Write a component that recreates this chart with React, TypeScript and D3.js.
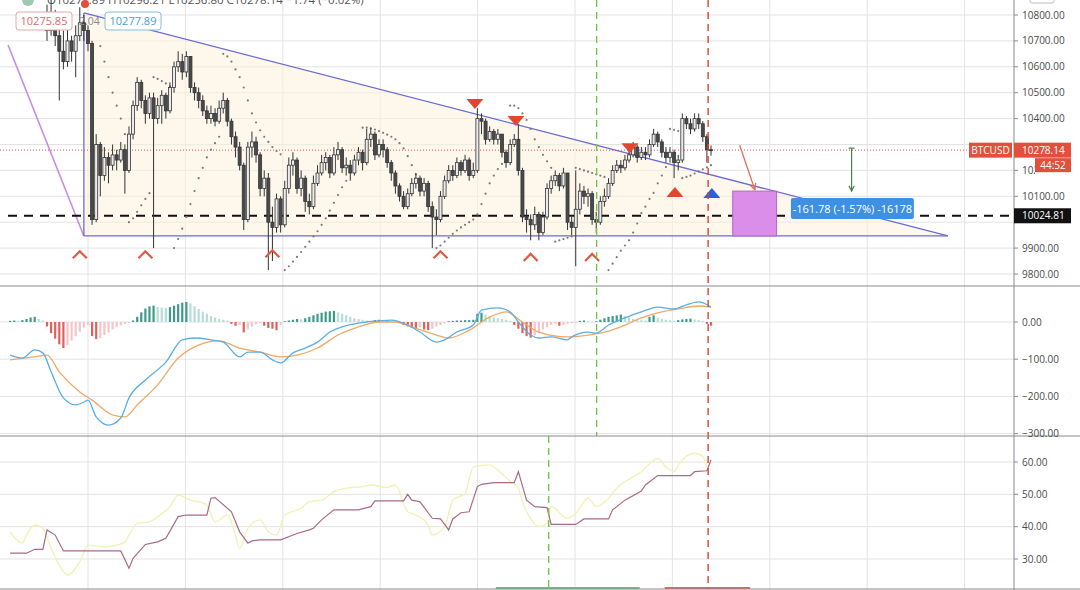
import React from "react";
import * as d3 from "d3";

// ---------- DATA ----------
const firstOpen = 10780;
const closes = [
  10740, 10800, 10720, 10660, 10620, 10700, 10660, 10720, 10770, 10740,
  10690, 10010, 10300, 10180, 10250, 10220, 10260, 10240, 10280, 10200,
  10340, 10450, 10540, 10470, 10420, 10480, 10400, 10450, 10490, 10430,
  10520, 10600, 10620, 10580, 10640, 10520, 10500, 10470, 10430, 10400,
  10420, 10390, 10440, 10470, 10390, 10330, 10290, 10220, 10010, 10290,
  10310, 10260, 10130, 10170, 10000, 9980, 10090, 9990, 10130, 10220,
  10240, 10130, 10170, 10080, 10060, 10150, 10190, 10230, 10250, 10190,
  10260, 10280, 10210, 10220, 10190, 10240, 10270, 10230, 10320, 10340,
  10260, 10300, 10280, 10230, 10190, 10140, 10100, 10060, 10110, 10150,
  10170, 10120, 10150, 10060, 10020, 10010, 10100, 10160, 10200, 10180,
  10230, 10200, 10240, 10180, 10200, 10400, 10390, 10320, 10350, 10320,
  10340, 10270, 10230, 10300, 10320, 10200, 10020, 10010, 9990, 10030,
  9960, 10020, 10130, 10160, 10180, 10140, 10190, 10000, 9980, 10050,
  10120, 10100, 10110, 10010, 10000, 10080, 10100, 10150, 10200, 10220,
  10210, 10240, 10260, 10290, 10250, 10270, 10260, 10300, 10340, 10310,
  10270, 10250, 10270, 10230, 10240, 10400, 10380, 10360, 10400, 10380,
  10330, 10280, 10278.14,
];
const highs = [
  10840, 10870, 10820, 10790, 10740, 10750, 10720, 10760, 10830, 10800,
  10760, 10700, 10340, 10310, 10290, 10270, 10300, 10280, 10310, 10300,
  10370, 10470, 10560, 10550, 10490, 10500, 10500, 10480, 10510, 10500,
  10540, 10620, 10660, 10650, 10660, 10640, 10540, 10520, 10490, 10450,
  10450, 10440, 10470, 10500, 10480, 10400, 10350, 10310, 10230, 10310,
  10350, 10330, 10270, 10200, 10190, 10060, 10110, 10100, 10160, 10250,
  10270, 10250, 10200, 10180, 10110, 10180, 10220, 10260, 10270, 10260,
  10290, 10310, 10290, 10250, 10240, 10260, 10290, 10280, 10360, 10365,
  10350, 10320, 10320, 10290, 10240, 10200, 10150, 10120, 10130, 10170,
  10190, 10180, 10170, 10160, 10080, 10050, 10120, 10180, 10220, 10220,
  10250, 10240, 10260, 10250, 10230, 10440, 10420, 10400, 10370, 10360,
  10360, 10340, 10280, 10320, 10340, 10380, 10210, 10050, 10030, 10060,
  10040, 10040, 10150, 10180, 10200, 10190, 10210, 10190, 10020, 10200,
  10150, 10140, 10130, 10120, 10040, 10100, 10130, 10170, 10220, 10240,
  10240, 10260, 10280, 10310, 10300, 10290, 10290, 10320, 10360, 10350,
  10320, 10290, 10290, 10280, 10260, 10420, 10410, 10400, 10420, 10420,
  10390, 10340, 10296.21,
];
const lows = [
  10700, 10720, 10680, 10470, 10590, 10600, 10620, 10560, 10700, 10700,
  10660, 9990, 10000, 10100, 10160, 10150, 10200, 10200, 10230, 10110,
  10190, 10320, 10430, 10440, 10380, 10400, 9900, 10380, 10380, 10400,
  10420, 10500, 10580, 10550, 10560, 10500, 10470, 10440, 10410, 10380,
  10380, 10370, 10380, 10420, 10370, 10300, 10250, 10200, 9970, 10000,
  10250, 10230, 10100, 10100, 9815, 9850, 9960, 9960, 9980, 10110,
  10180, 10110, 10100, 10040, 10030, 10050, 10140, 10180, 10200, 10170,
  10180, 10240, 10190, 10180, 10160, 10180, 10220, 10200, 10220, 10290,
  10240, 10250, 10250, 10210, 10160, 10110, 10080, 10050, 10050, 10100,
  10130, 10100, 10100, 10040, 9900, 9950, 10000, 10090, 10150, 10160,
  10170, 10180, 10190, 10160, 10170, 10190, 10340, 10300, 10310, 10300,
  10300, 10250, 10210, 10220, 10290, 10180, 10000, 9960, 9930, 9970,
  9930, 9950, 10010, 10110, 10140, 10120, 10130, 9970, 9950, 9830,
  10030, 10070, 10060, 9990, 9960, 9990, 10060, 10090, 10140, 10190,
  10190, 10200, 10230, 10250, 10230, 10240, 10240, 10250, 10290, 10290,
  10250, 10230, 10230, 10170, 10200, 10230, 10360, 10340, 10350, 10360,
  10310, 10230, 10256.8,
];

// Parabolic SAR runs: [first bar index, values]
const sarRuns: [number, number[]][] = [
  [13, [10680, 10620, 10560, 10500, 10450, 10400, 10340]],
  [20, [10000, 10015, 10040, 10065, 10090, 10112]],
  [26, [10560, 10553, 10545, 10536, 10525]],
  [31, [9900, 9935, 9975, 10020, 10070, 10120, 10170, 10210, 10250, 10280, 10305, 10330]],
  [43, [10650, 10640, 10620, 10590, 10560, 10520, 10470, 10420, 10385, 10355, 10330, 10310, 10290, 10275, 10262]],
  [58, [9815, 9830, 9848, 9866, 9885, 9905, 9925, 9945, 9965, 9990, 10015, 10045, 10075, 10105, 10135, 10160]],
  [77, [10365, 10365, 10362, 10358, 10352, 10345, 10338, 10330, 10320, 10305, 10285, 10255, 10220, 10185, 10150]],
  [95, [9900, 9910, 9925, 9940, 9955, 9968, 9980, 9990, 10000, 10010, 10030, 10070, 10110, 10150, 10180, 10205, 10225]],
  [113, [10450, 10450, 10440, 10420, 10395, 10360, 10320, 10290, 10260, 10235, 10210]],
  [124, [9925, 9930, 9935, 9940, 9945]],
  [129, [10210, 10205, 10200, 10195, 10190, 10185, 10180, 10175]],
  [137, [9815, 9840, 9865, 9890, 9910, 9930, 9960, 9995, 10035, 10060, 10090, 10113, 10150, 10180, 10213]],
  [152, [10360, 10356, 10352]],
  [155, [10170, 10175, 10180, 10188, 10196, 10204, 10212, 10220]],
];

// MACD histogram, bar index -9 .. 162
const histStart = -9;
const macdHist = [
  3, 4, 3, 5, 8, 12, 14, 8, 4,
  -12, -30, -45, -60, -70, -62, -50, -38, -26, -15, -8,
  -38, -46, -44, -35, -28, -20, -14, -9, -5, -2,
  4, 14, 26, 36, 42, 44, 40, 39, 38, 40, 44, 48, 52, 54,
  50, 42, 35, 28, 22, 16, 12, 8, 6, 4,
  -5, -10, -8, -28, -20, -12, -6, -3, -10, -16, -18, -22, -8,
  2, 4, 6, 8, 7, 10, 14, 18, 22, 25, 28, 29, 30,
  26, 22, 18, 14, 10, 8, 6, 4,
  3, 5, 6, 4, 5, 3, 1,
  -3, -8, -12, -16, -18, -14, -20, -22,
  -18, -12, -8, -4,
  2, 3, 4, 4, 5, 5, 6,
  22, 25, 20, 16, 12, 10, 8, 6, 3,
  -8, -18, -30, -38, -42,
  -36, -28, -20, -14, -8, -5,
  -10, -8,
  -5, -3, -1,
  3, 4,
  2, 1, 2,
  6, 10, 14, 16, 18, 20, 16,
  12, 8, 6, 5, 4,
  14, 18,
  12, 8, 6, 4, 3,
  5, 7, 8, 9,
  7, 5, 3,
  -5, -10,
];
const macdLine: [number, number][] = [
  [-9, -89], [-6, -97], [-3, -75], [-1, -83], [1, -134], [4, -204], [7, -223], [9, -215], [10, -210],
  [12, -255], [15, -277], [18, -258], [20, -204], [24, -156], [29, -108], [33, -48], [36, -43], [40, -48],
  [43, -54], [47, -94], [49, -81], [52, -81], [55, -102], [57, -110], [60, -83], [63, -70], [66, -54],
  [69, -27], [72, -13], [78, 0], [81, 3], [84, 5], [88, -8], [91, -27], [95, -54], [97, -48], [100, -27],
  [104, -8], [106, 32], [110, 38], [113, 27], [115, 0], [118, -35], [120, -43], [123, -40], [127, -48],
  [128, -40], [132, -27], [134, -30], [137, -8], [141, 11], [145, 27], [149, 40], [153, 35], [156, 46],
  [159, 54], [162, 40],
];
const signalLine: [number, number][] = [
  [-9, -102], [-3, -94], [0, -89], [3, -134], [8, -188], [11, -210], [16, -250], [19, -255], [22, -223],
  [27, -169], [32, -97], [37, -62], [42, -51], [47, -70], [52, -81], [57, -94], [61, -89], [66, -70],
  [71, -35], [76, -13], [81, 0], [85, 0], [89, -13], [95, -35], [98, -43], [103, -22], [108, 13],
  [112, 27], [116, 0], [120, -27], [127, -40], [132, -35], [135, -30], [140, -13], [145, 11], [150, 27],
  [154, 35], [159, 43], [162, 40],
];
const rsiMauve: [number, number][] = [
  [-9, 31.8], [-5, 31.8], [-3, 33.0], [-1, 33.0], [0, 39.0], [2, 37.4], [4, 32.5], [10, 32.5], [18, 32.5],
  [20, 27.1], [21, 30.2], [24, 34.5], [27, 35.3], [29, 36.4], [32, 43.1], [34, 43.6], [39, 43.6], [40, 48.8],
  [41, 49.0], [45, 44.6], [46, 41.5], [47, 38.4], [49, 34.9], [50, 35.6], [52, 35.9], [57, 35.9], [61, 37.9],
  [64, 39.0], [65, 39.5], [67, 42.1], [70, 45.2], [76, 45.2], [79, 46.2], [80, 48.0], [87, 48.0], [88, 50.0],
  [89, 48.2], [91, 47.7], [94, 42.6], [96, 42.4], [98, 39.0], [99, 42.4], [101, 44.3], [103, 44.6], [105, 52.4],
  [106, 53.1], [109, 53.6], [114, 53.6], [115, 57.0], [117, 48.2], [119, 46.2], [122, 45.9], [123, 40.7],
  [129, 40.7], [131, 42.4], [137, 42.4], [138, 45.2], [141, 48.2], [145, 51.0], [146, 52.9], [149, 55.8],
  [157, 55.8], [158, 57.0], [161, 57.3], [162, 60.6],
];
const rsiYellow: [number, number][] = [
  [-9, 38.4], [-6, 34.9], [-5, 37.4], [-3, 40.5], [-1, 39.5], [1, 33.3], [4, 26.1], [5, 25.0], [8, 29.2],
  [10, 34.3], [14, 33.8], [17, 34.3], [19, 35.3], [20, 37.4], [22, 41.0], [25, 41.5], [27, 43.1], [30, 46.2],
  [32, 49.8], [35, 48.2], [37, 47.7], [39, 46.7], [41, 41.5], [44, 43.6], [46, 37.4], [47, 33.3], [49, 39.5],
  [52, 42.1], [54, 38.4], [56, 37.4], [58, 43.6], [62, 45.7], [64, 47.7], [67, 48.2], [70, 50.8], [73, 51.9],
  [77, 52.4], [79, 52.9], [83, 52.1], [85, 52.9], [88, 44.6], [90, 43.6], [93, 40.5], [94, 37.4], [97, 40.0],
  [99, 48.2], [102, 50.3], [104, 58.5], [108, 59.1], [110, 57.5], [113, 54.0], [115, 52.0], [116, 47.7],
  [118, 42.6], [120, 40.0], [122, 41.0], [123, 46.2], [127, 42.6], [129, 44.1], [132, 48.8], [134, 46.2],
  [137, 48.8], [139, 51.9], [141, 53.9], [145, 57.0], [149, 61.1], [151, 58.5], [153, 57.0], [154, 59.1],
  [158, 62.7], [160, 61.6], [161, 58.5],
];

// signal markers
const caretIdx = [8, 24, 55, 96, 118, 133];
const caretPrice = [9876, 9876, 9880, 9876, 9866, 9866];
const downTriIdx = [104.4, 114.4, 142.2];
const downTriPrice = [10456, 10391, 10286];
const upTriIdx = [153.2, 162.2];
const upTriPrice = [10117, 10113];
const upTriColor = ["#e2462f", "#2f5de0"];

// tick labels (10300 and 10000 sit under the price boxes and are not drawn in the reference)
const priceTicks = [10800, 10700, 10600, 10500, 10400, 10300, 10200, 10100, 10000, 9900, 9800];
const hiddenPriceLabels = [10300, 10000];
const macdTicks = [0, -100, -200, -300];
const rsiTicks = [60, 50, 40, 30];

// levels / drawings (bar index, price)
const lastPrice = 10278.14;
const blackLevel = 10024.81;
const triTop: [number, number] = [9, 10808];
const triApex: [number, number] = [219.8, 9947];
const triBase: [number, number] = [9, 9947];
const violetFrom: [number, number] = [-9.5, 10684];
const boxFrom: [number, number] = [167.3, 10120];
const boxTo: [number, number] = [178, 9947];
const redArrow: [number, number][] = [[169, 10297], [172.7, 10125]];
const greenArrow: [number, number][] = [[196.3, 10286], [196.3, 10120]];
const measureBox: [number, number][] = [[181.5, 10093], [211.5, 10012]];
const greenDashIdx = 134.1;
const greenDashRsiIdx = 122.4;
const redDashIdx = 161.3;

export default function App() {
  const AX = 1014;
  const x = d3.scaleLinear().domain([0, 162]).range([47, 711]);
  const yP = d3.scaleLinear().domain([9800, 10800]).range([274, 15]);
  const yM = d3.scaleLinear().domain([-300, 0]).range([433.6, 322]);
  const yR = d3.scaleLinear().domain([30, 60]).range([559, 462]);
  const xGrid = d3.scaleLinear().domain([0, 9]).range([88, 964.6]);
  const gridXs = d3.range(10).map((k) => xGrid(k));

  const candles = closes.map((c, i) => {
    const o = i === 0 ? firstOpen : closes[i - 1];
    return {
      i,
      o,
      c,
      h: Math.max(highs[i], o, c),
      l: Math.min(lows[i], o, c),
    };
  });

  const lineM = d3
    .line<[number, number]>()
    .x((d) => x(d[0]))
    .y((d) => yM(d[1]))
    .curve(d3.curveMonotoneX);
  const lineRstep = d3
    .line<[number, number]>()
    .x((d) => x(d[0]))
    .y((d) => yR(d[1]));
  const lineRsmooth = d3
    .line<[number, number]>()
    .x((d) => x(d[0]))
    .y((d) => yR(d[1]))
    .curve(d3.curveMonotoneX);

  const histBars = macdHist.map((v, k) => {
    const prev = k > 0 ? macdHist[k - 1] : v;
    let color;
    if (v >= 0) color = v >= prev ? "#3e9a8a" : "#b6ddd6";
    else color = v <= prev ? "#e0605a" : "#f6c4c8";
    return { i: histStart + k, v, color };
  });

  const fontFam = "'Open Sans', 'DejaVu Sans', sans-serif";
  const labelColor = "#4a4a4a";

  const arrowHead = (p0: [number, number], p1: [number, number], size: number) => {
    const ang = Math.atan2(p1[1] - p0[1], p1[0] - p0[0]);
    const a1 = ang + Math.PI - 0.45;
    const a2 = ang + Math.PI + 0.45;
    return `M${p1[0] + size * Math.cos(a1)},${p1[1] + size * Math.sin(a1)} L${p1[0]},${p1[1]} L${p1[0] + size * Math.cos(a2)},${p1[1] + size * Math.sin(a2)}`;
  };

  const ra0: [number, number] = [x(redArrow[0][0]), yP(redArrow[0][1])];
  const ra1: [number, number] = [x(redArrow[1][0]), yP(redArrow[1][1])];
  const ga0: [number, number] = [x(greenArrow[0][0]), yP(greenArrow[0][1])];
  const ga1: [number, number] = [x(greenArrow[1][0]), yP(greenArrow[1][1])];

  const mbX0 = x(measureBox[0][0]);
  const mbX1 = x(measureBox[1][0]);
  const mbY0 = yP(measureBox[0][1]);
  const mbY1 = yP(measureBox[1][1]);

  return (
    <svg
      width={1080}
      height={590}
      style={{ position: "fixed", left: 0, top: 0, background: "#ffffff" }}
      fontFamily={fontFam}
    >
      <defs>
        <clipPath id="mainClip">
          <rect x={0} y={0} width={AX} height={286} />
        </clipPath>
        <clipPath id="macdClip">
          <rect x={0} y={286} width={AX} height={150} />
        </clipPath>
        <clipPath id="rsiClip">
          <rect x={0} y={436} width={AX} height={153} />
        </clipPath>
        <clipPath id="timerClip">
          <rect x={AX} y={150} width={1035 - AX} height={30} />
        </clipPath>
      </defs>
      <rect x={0} y={0} width={1080} height={590} fill="#ffffff" />

      {/* vertical grid */}
      {gridXs.map((gx, k) => (
        <line key={"vg" + k} x1={gx} x2={gx} y1={0} y2={589} stroke="#e3e3e3" strokeWidth={1} />
      ))}
      {/* horizontal grids */}
      {priceTicks.map((p) => (
        <line key={"hp" + p} x1={0} x2={AX} y1={yP(p)} y2={yP(p)} stroke="#e3e3e3" />
      ))}
      {macdTicks.map((p) => (
        <line key={"hm" + p} x1={0} x2={AX} y1={yM(p)} y2={yM(p)} stroke="#e3e3e3" />
      ))}
      {rsiTicks.map((p) => (
        <line key={"hr" + p} x1={0} x2={AX} y1={yR(p)} y2={yR(p)} stroke="#e3e3e3" />
      ))}

      {/* ---------- MAIN PANE ---------- */}
      <g clipPath="url(#mainClip)">
        {/* triangle fill */}
        <path
          d={`M${x(triTop[0])},${yP(triTop[1])} L${x(triApex[0])},${yP(triApex[1])} L${x(triBase[0])},${yP(triBase[1])} Z`}
          fill="#fcf1dc"
          fillOpacity={0.55}
        />
        {/* violet line */}
        <line
          x1={x(violetFrom[0])}
          y1={yP(violetFrom[1])}
          x2={x(triBase[0])}
          y2={yP(triBase[1])}
          stroke="#c58ce0"
          strokeWidth={1.6}
        />
        {/* triangle lines */}
        <line x1={x(triTop[0])} y1={yP(triTop[1])} x2={x(triApex[0])} y2={yP(triApex[1])} stroke="#6b6bd2" strokeWidth={1.3} />
        <line x1={x(triBase[0])} y1={yP(triBase[1])} x2={x(triApex[0])} y2={yP(triApex[1])} stroke="#6b6bd2" strokeWidth={1.3} />
        <line x1={x(triBase[0])} y1={yP(triTop[1])} x2={x(triBase[0])} y2={yP(triBase[1])} stroke="#6b6bd2" strokeWidth={1.3} />

        {/* black dashed level */}
        <line x1={8} x2={AX} y1={yP(blackLevel)} y2={yP(blackLevel)} stroke="#111" strokeWidth={2} strokeDasharray="9,7" />
        {/* current price dotted */}
        <line x1={0} x2={AX} y1={yP(lastPrice)} y2={yP(lastPrice)} stroke="#e05a4a" strokeWidth={1} strokeDasharray="1,2" />

        {/* SAR */}
        {sarRuns.map(([start, vals], r) =>
          vals.map((v, k) => (
            <circle key={"s" + r + "_" + k} cx={x(start + k)} cy={yP(v)} r={1.1} fill="#7a7a7a" />
          ))
        )}

        {/* candles */}
        {candles.map((d) => {
          const up = d.c >= d.o;
          const top = yP(Math.max(d.o, d.c));
          const bot = yP(Math.min(d.o, d.c));
          return (
            <g key={"c" + d.i}>
              <line x1={x(d.i)} x2={x(d.i)} y1={yP(d.h)} y2={yP(d.l)} stroke="#333" strokeWidth={1} />
              <rect
                x={x(d.i) - 1.5}
                y={top}
                width={3}
                height={Math.max(1, bot - top)}
                fill={up ? "#ececec" : "#4a4a4a"}
                stroke="#333"
                strokeWidth={0.8}
              />
            </g>
          );
        })}

        {/* carets */}
        {caretIdx.map((ci, k) => {
          const cx = x(ci);
          const cy = yP(caretPrice[k]);
          return (
            <path key={"ca" + k} d={`M${cx - 7},${cy + 4} L${cx},${cy - 3} L${cx + 7},${cy + 4}`} fill="none" stroke="#e05a40" strokeWidth={2.2} />
          );
        })}
        {downTriIdx.map((ti, k) => {
          const cx = x(ti);
          const cy = yP(downTriPrice[k]);
          return <path key={"dt" + k} d={`M${cx - 8.5},${cy - 5} L${cx + 8.5},${cy - 5} L${cx},${cy + 5} Z`} fill="#e2462f" />;
        })}
        {upTriIdx.map((ti, k) => {
          const cx = x(ti);
          const cy = yP(upTriPrice[k]);
          return <path key={"ut" + k} d={`M${cx - 8.5},${cy + 5} L${cx + 8.5},${cy + 5} L${cx},${cy - 5} Z`} fill={upTriColor[k]} />;
        })}

        {/* target box */}
        <rect
          x={x(boxFrom[0])}
          y={yP(boxFrom[1])}
          width={x(boxTo[0]) - x(boxFrom[0])}
          height={yP(boxTo[1]) - yP(boxFrom[1])}
          fill="#da8de9"
          stroke="#b463cc"
          strokeWidth={1}
        />
        {/* red arrow */}
        <line x1={ra0[0]} y1={ra0[1]} x2={ra1[0]} y2={ra1[1]} stroke="#e0705e" strokeWidth={1.3} />
        <path d={arrowHead(ra0, ra1, 7)} fill="none" stroke="#e0705e" strokeWidth={1.3} />
        {/* green measure arrow */}
        <line x1={ga0[0]} y1={ga0[1]} x2={ga1[0]} y2={ga1[1]} stroke="#4d7d4d" strokeWidth={1.2} />
        <line x1={ga0[0] - 3} y1={ga0[1]} x2={ga0[0] + 3} y2={ga0[1]} stroke="#4d7d4d" strokeWidth={1.2} />
        <path d={arrowHead(ga0, ga1, 6)} fill="none" stroke="#4d7d4d" strokeWidth={1.2} />
        {/* measure label */}
        <rect x={mbX0} y={mbY0} width={mbX1 - mbX0} height={mbY1 - mbY0} rx={2} fill="#3f8fe2" />
        <text x={(mbX0 + mbX1) / 2} y={(mbY0 + mbY1) / 2 + 4} textAnchor="middle" fontSize={11} fill="#ffffff">
          -161.78 (-1.57%) -16178
        </text>
      </g>

      {/* ---------- MACD PANE ---------- */}
      <g clipPath="url(#macdClip)">
        {histBars.map((b) => (
          <rect
            key={"h" + b.i}
            x={x(b.i) - 1.1}
            y={b.v >= 0 ? yM(b.v) : yM(0)}
            width={2.2}
            height={Math.max(0.8, Math.abs(yM(b.v) - yM(0)))}
            fill={b.color}
          />
        ))}
        <path d={lineM(signalLine) || ""} fill="none" stroke="#f0a868" strokeWidth={1.3} />
        <path d={lineM(macdLine) || ""} fill="none" stroke="#5aaee4" strokeWidth={1.3} />
      </g>

      {/* ---------- RSI PANE ---------- */}
      <g clipPath="url(#rsiClip)">
        <path d={lineRsmooth(rsiYellow) || ""} fill="none" stroke="#f1f2b8" strokeWidth={1.4} />
        <path d={lineRstep(rsiMauve) || ""} fill="none" stroke="#a86a86" strokeWidth={1.2} />
        <line x1={x(109.5)} x2={x(144.6)} y1={588} y2={588} stroke="#7cc05a" strokeWidth={2} />
        <line x1={x(150.7)} x2={x(171.5)} y1={588} y2={588} stroke="#e06a4a" strokeWidth={2} />
      </g>

      {/* vertical dashed markers */}
      <line x1={x(greenDashIdx)} x2={x(greenDashIdx)} y1={0} y2={436} stroke="#72c24e" strokeWidth={1.3} strokeDasharray="7,5" />
      <line x1={x(greenDashRsiIdx)} x2={x(greenDashRsiIdx)} y1={436} y2={589} stroke="#72c24e" strokeWidth={1.3} strokeDasharray="7,5" />
      <line x1={x(redDashIdx)} x2={x(redDashIdx)} y1={0} y2={589} stroke="#d9452e" strokeWidth={1.4} strokeDasharray="7,5" />

      {/* pane separators & axis */}
      <line x1={0} x2={1080} y1={286} y2={286} stroke="#8a8a8a" strokeWidth={1} />
      <line x1={0} x2={1080} y1={436} y2={436} stroke="#8a8a8a" strokeWidth={1} />
      <line x1={0} x2={1080} y1={589} y2={589} stroke="#8a8a8a" strokeWidth={1} />
      <line x1={AX} x2={AX} y1={0} y2={590} stroke="#8a8a8a" strokeWidth={1} />

      {/* axis labels */}
      {priceTicks.map((p) => (
        <g key={"pl" + p}>
          <line x1={AX} x2={AX + 4} y1={yP(p)} y2={yP(p)} stroke="#8a8a8a" />
          {hiddenPriceLabels.includes(p) ? null : (
            <text
              x={AX + 8}
              y={yP(p) + 3.5}
              fontSize={10}
              fill={labelColor}
              clipPath={p === 10200 ? "url(#timerClip)" : undefined}
            >
              {p.toFixed(2)}
            </text>
          )}
        </g>
      ))}
      {macdTicks.map((p) => (
        <g key={"ml" + p}>
          <line x1={AX} x2={AX + 4} y1={yM(p)} y2={yM(p)} stroke="#8a8a8a" />
          <text x={AX + 8} y={yM(p) + 3.5} fontSize={10} fill={labelColor}>
            {p === 0 ? "0.00" : "\u2212" + Math.abs(p).toFixed(2)}
          </text>
        </g>
      ))}
      {rsiTicks.map((p) => (
        <g key={"rl" + p}>
          <line x1={AX} x2={AX + 4} y1={yR(p)} y2={yR(p)} stroke="#8a8a8a" />
          <text x={AX + 8} y={yR(p) + 3.5} fontSize={10} fill={labelColor}>
            {p.toFixed(2)}
          </text>
        </g>
      ))}

      {/* price labels */}
      <rect x={969} y={yP(lastPrice) - 7.5} width={43} height={15} fill="#e2503d" />
      <text x={990.5} y={yP(lastPrice) + 3.5} textAnchor="middle" fontSize={10} fill="#fff">
        BTCUSD
      </text>
      <rect x={AX} y={yP(lastPrice) - 7.5} width={57} height={15} fill="#e2503d" />
      <text x={AX + 8} y={yP(lastPrice) + 3.5} fontSize={10} fill="#fff">
        {lastPrice.toFixed(2)}
      </text>
      <rect x={1035} y={yP(lastPrice) + 8} width={36} height={14} fill="#e2503d" />
      <text x={1053} y={yP(lastPrice) + 18.5} textAnchor="middle" fontSize={10} fill="#fff">
        44:52
      </text>
      <rect x={AX} y={yP(blackLevel) - 7.5} width={57} height={15} fill="#111" />
      <text x={AX + 8} y={yP(blackLevel) + 3.5} fontSize={10} fill="#fff">
        {blackLevel.toFixed(2)}
      </text>

      {/* top-right small box */}
      <rect x={1030} y={-8} width={24} height={11} rx={2} fill="#fff" stroke="#bdbdbd" />

      {/* header */}
      <circle cx={28} cy={0} r={6} fill="#9fc9b0" />
      <text x={47} y={4} fontSize={11.5} fill="#555">
        O10277.89 H10296.21 L10256.80 C10278.14 −1.74 (−0.02%)
      </text>
      <circle cx={85} cy={4} r={4} fill="#e0503c" />

      {/* top-left value labels */}
      <rect x={16} y={12} width={56} height={18} rx={3} fill="#fff" stroke="#e6a6a6" />
      <text x={44} y={25} textAnchor="middle" fontSize={11} fill="#d46a6a">
        10275.85
      </text>
      <text x={79} y={25} fontSize={10.5} fill="#888">
        2.04
      </text>
      <rect x={105} y={12} width={56} height={18} rx={3} fill="#fff" stroke="#86bedc" />
      <text x={133} y={25} textAnchor="middle" fontSize={11} fill="#4f9ccb">
        10277.89
      </text>
    </svg>
  );
}
